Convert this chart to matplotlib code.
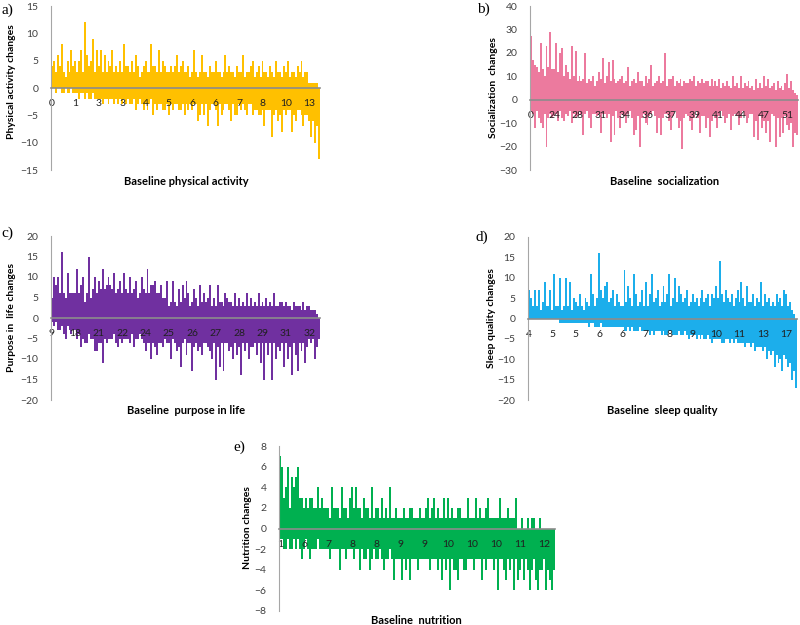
import numpy as np
import matplotlib.pyplot as plt

plt.rcParams['font.family'] = ['Lato', 'DejaVu Sans']

# Each panel has ~hundreds of participants, far more bars than pixels.
# Values are read per small bin along the x axis: the highest gain (up)
# and the largest drop (down) seen in that bin.

activity_up = [
    4, 5, 3, 6, 4, 8, 3, 2, 5, 3, 7, 4,
    5, 3, 5, 7, 3, 12, 6, 4, 5, 9, 3, 7,
    4, 7, 3, 6, 3, 5, 4, 7, 3, 4, 3, 5,
    3, 8, 4, 4, 3, 5, 3, 6, 4, 2, 3, 4,
    5, 3, 3, 8, 4, 4, 3, 7, 3, 5, 4, 3,
    3, 4, 3, 4, 6, 3, 4, 5, 3, 3, 4, 2,
    3, 7, 3, 2, 3, 6, 3, 3, 2, 4, 3, 3,
    5, 3, 3, 2, 3, 6, 3, 4, 3, 3, 2, 4,
    3, 3, 6, 2, 3, 3, 4, 5, 2, 3, 4, 2,
    5, 3, 3, 2, 4, 3, 2, 5, 3, 3, 2, 4,
    3, 5, 2, 3, 3, 2, 4, 3, 5, 2, 3, 3,
    1, 1, 1, 1, 1, 0]
activity_down = [
    0, 0, -1, 0, 0, -1, -1, 0, -1, -1, 0, -1,
    -1, -1, -2, -1, -1, -2, -1, -2, -2, -1, -2, -2,
    -2, -2, -3, -2, -2, -3, -2, -2, -3, -2, -3, -2,
    -3, -2, -3, -2, -3, -3, -2, -4, -3, -2, -3, -4,
    -3, -4, -3, -2, -5, -3, -4, -3, -3, -4, -4, -3,
    -5, -3, -4, -3, -3, -4, -4, -3, -5, -3, -4, -3,
    -4, -3, -3, -6, -5, -3, -5, -3, -7, -4, -3, -3,
    -4, -7, -3, -5, -4, -3, -3, -4, -6, -3, -5, -5,
    -3, -4, -3, -4, -5, -3, -3, -5, -4, -4, -5, -5,
    -4, -7, -4, -4, -4, -9, -5, -4, -6, -5, -8, -4,
    -5, -4, -4, -8, -5, -6, -4, -4, -5, -7, -5, -5,
    -6, -9, -6, -10, -7, -13]
activity_ticks = ['0', '1', '3', '3', '4', '5', '6', '6', '7', '8', '10', '13']

social_up = [
    27, 17, 15, 14, 12, 24, 13, 10, 23, 14, 29, 13,
    13, 24, 12, 20, 22, 10, 15, 12, 9, 23, 10, 21,
    8, 10, 8, 9, 20, 7, 9, 8, 10, 6, 8, 12,
    9, 18, 7, 10, 16, 8, 17, 9, 7, 8, 9, 10,
    7, 8, 14, 6, 8, 9, 7, 12, 8, 8, 6, 10,
    7, 9, 15, 6, 7, 8, 10, 7, 8, 20, 6, 9,
    9, 10, 6, 8, 7, 9, 6, 8, 7, 7, 9, 8,
    10, 6, 8, 7, 9, 7, 8, 8, 6, 9, 6, 8,
    6, 9, 5, 7, 6, 8, 6, 5, 10, 6, 7, 5,
    10, 5, 7, 6, 8, 5, 6, 4, 9, 5, 7, 5,
    10, 6, 9, 5, 6, 7, 4, 8, 5, 6, 4, 7,
    11, 5, 8, 4, 3, 2]
social_down = [
    -5, -6, -12, -5, -8, -10, -12, -6, -20, -8, -6, -8,
    -7, -6, -9, -5, -8, -9, -6, -7, -5, -10, -6, -8,
    -7, -5, -6, -15, -6, -5, -8, -12, -6, -6, -7, -6,
    -14, -6, -6, -8, -6, -18, -7, -15, -5, -8, -12, -6,
    -7, -10, -6, -5, -8, -15, -13, -7, -20, -8, -6, -10,
    -11, -7, -6, -5, -7, -14, -8, -15, -8, -6, -6, -9,
    -13, -7, -5, -8, -12, -9, -21, -8, -6, -7, -9, -13,
    -8, -5, -8, -14, -7, -7, -12, -8, -16, -9, -6, -8,
    -12, -7, -5, -7, -10, -8, -6, -13, -7, -6, -7, -11,
    -8, -5, -7, -10, -8, -6, -6, -16, -9, -17, -7, -12,
    -9, -14, -9, -18, -6, -7, -20, -8, -16, -8, -14, -7,
    -11, -13, -10, -20, -14, -15]
social_ticks = ['0', '24', '28', '31', '34', '36', '37', '39', '41', '44', '47', '51']

purpose_up = [
    5, 10, 8, 10, 6, 16, 6, 5, 11, 6, 6, 6,
    6, 12, 6, 8, 10, 4, 6, 15, 5, 7, 10, 6,
    9, 7, 12, 7, 8, 10, 8, 7, 11, 6, 7, 9,
    6, 11, 7, 6, 10, 6, 7, 9, 5, 6, 10, 7,
    6, 12, 6, 8, 8, 9, 6, 6, 8, 5, 5, 9,
    3, 4, 9, 4, 3, 7, 4, 8, 5, 9, 6, 3,
    4, 7, 5, 3, 8, 4, 6, 4, 5, 8, 3, 5,
    3, 8, 4, 4, 3, 6, 5, 4, 4, 3, 6, 3,
    5, 3, 4, 3, 6, 3, 5, 3, 4, 3, 6, 3,
    4, 3, 5, 3, 4, 3, 6, 3, 3, 4, 4, 3,
    4, 3, 3, 2, 4, 3, 3, 3, 2, 4, 2, 3,
    3, 2, 2, 2, 1, 0]
purpose_down = [
    -1, -2, -1, -3, -3, -2, -4, -5, -2, -3, -4, -3,
    -3, -5, -4, -7, -5, -6, -6, -4, -5, -5, -8, -8,
    -6, -6, -11, -5, -6, -5, -5, -5, -4, -6, -7, -5,
    -6, -5, -5, -5, -6, -4, -7, -5, -5, -4, -5, -6,
    -8, -6, -6, -10, -6, -7, -9, -6, -6, -7, -5, -6,
    -6, -10, -5, -6, -8, -7, -12, -6, -5, -9, -6, -6,
    -13, -7, -6, -8, -7, -9, -6, -6, -7, -8, -10, -6,
    -15, -7, -12, -6, -13, -6, -6, -8, -7, -10, -6, -9,
    -7, -14, -6, -8, -6, -10, -7, -7, -6, -9, -6, -11,
    -6, -15, -6, -9, -6, -15, -6, -10, -7, -8, -6, -12,
    -6, -10, -7, -14, -6, -9, -13, -6, -8, -6, -11, -7,
    -5, -6, -5, -10, -7, -5]
purpose_ticks = ['9', '18', '21', '22', '24', '25', '26', '27', '28', '29', '31', '32']

sleep_up = [
    7, 5, 3, 7, 3, 7, 2, 4, 9, 3, 3, 7,
    2, 11, 3, 3, 10, 2, 3, 10, 3, 9, 2, 5,
    4, 3, 6, 3, 2, 5, 4, 3, 11, 6, 3, 5,
    16, 7, 5, 8, 9, 4, 5, 7, 3, 6, 4, 3,
    3, 12, 4, 8, 5, 3, 11, 6, 3, 4, 7, 3,
    9, 3, 6, 11, 4, 5, 7, 3, 4, 8, 4, 6,
    11, 3, 5, 10, 4, 8, 6, 4, 5, 7, 3, 4,
    6, 4, 5, 3, 5, 7, 4, 5, 6, 3, 6, 5,
    8, 5, 14, 6, 4, 7, 5, 4, 6, 3, 5, 7,
    4, 9, 5, 3, 8, 4, 4, 6, 3, 5, 4, 9,
    3, 6, 4, 5, 3, 4, 3, 6, 4, 5, 3, 7,
    6, 3, 4, 2, 1, 0]
sleep_down = [
    0, 0, 0, 0, 0, 0, 0, 0, 0, 0, 0, 0,
    0, 0, 0, 0, -1, -1, -1, -1, -1, -1, -1, -1,
    -1, -1, -1, -1, -1, -1, -1, -2, -1, -1, -2, -2,
    -2, -1, -2, -2, -2, -2, -2, -2, -2, -2, -2, -2,
    -2, -3, -3, -2, -3, -2, -3, -3, -3, -2, -3, -3,
    -3, -3, -4, -3, -4, -3, -3, -3, -4, -3, -4, -4,
    -3, -3, -4, -4, -4, -3, -4, -4, -3, -4, -5, -4,
    -4, -4, -5, -4, -5, -4, -5, -5, -4, -5, -6, -5,
    -5, -5, -5, -6, -6, -5, -5, -6, -5, -6, -5, -6,
    -6, -6, -6, -7, -6, -6, -7, -6, -8, -7, -7, -7,
    -8, -7, -10, -8, -9, -8, -12, -9, -11, -10, -13, -9,
    -10, -12, -11, -15, -13, -17]
sleep_ticks = ['4', '5', '5', '6', '6', '7', '8', '9', '10', '11', '13', '17']

nutrition_up = [
    7, 6, 3, 4, 6, 2, 5, 4, 5, 6, 3, 3,
    2, 3, 2, 3, 3, 2, 2, 4, 2, 3, 2, 2,
    2, 1, 4, 2, 2, 2, 1, 4, 2, 2, 1, 3,
    4, 2, 4, 2, 2, 1, 3, 2, 2, 1, 4, 1,
    2, 2, 1, 3, 1, 2, 1, 4, 1, 1, 2, 1,
    1, 1, 2, 1, 1, 2, 2, 1, 1, 1, 2, 1,
    1, 2, 3, 1, 2, 3, 1, 2, 1, 1, 3, 1,
    3, 1, 2, 1, 1, 2, 2, 1, 1, 1, 3, 1,
    1, 1, 3, 1, 2, 1, 1, 2, 3, 1, 1, 1,
    1, 1, 3, 1, 1, 1, 2, 1, 1, 1, 3, 0,
    0, 1, 0, 0, 1, 0, 1, 1, 0, 0, 1, 0,
    0, 0, 0, 0, 0, 0]
nutrition_down = [
    -1, -1, -2, -2, -1, -2, -2, -1, -2, -1, -2, -3,
    -2, -1, -2, -3, -2, -2, -2, -1, -2, -2, -2, -2,
    -2, -3, -2, -2, -2, -2, -4, -2, -2, -3, -2, -2,
    -2, -3, -2, -2, -4, -2, -3, -3, -2, -4, -3, -2,
    -3, -3, -2, -3, -4, -3, -3, -2, -3, -5, -3, -3,
    -3, -5, -3, -4, -3, -5, -3, -3, -3, -4, -3, -3,
    -3, -3, -3, -4, -3, -3, -3, -4, -3, -5, -3, -4,
    -3, -6, -3, -4, -4, -5, -3, -3, -4, -4, -3, -3,
    -3, -4, -3, -3, -3, -5, -3, -4, -3, -3, -3, -4,
    -3, -6, -3, -3, -4, -5, -3, -4, -3, -6, -3, -5,
    -4, -3, -5, -3, -4, -6, -4, -3, -5, -6, -4, -4,
    -3, -6, -4, -5, -6, -4]
nutrition_ticks = ['1', '6', '7', '8', '8', '9', '9', '10', '10', '10', '11', '12']

W, H = 800, 625
fig = plt.figure(figsize=(8, 6.25), dpi=100)


def px_axes(left, top, right, bottom):
    return fig.add_axes([left / W, 1 - bottom / H, (right - left) / W, (bottom - top) / H])


def panel(box, up, down, ticks, color, ylim, ystep, letter, letter_xy, ylab, ylab_xy, xlab, xlab_xy):
    ax = px_axes(*box)
    n = len(up)
    x = np.arange(n)
    ax.bar(x, up, width=1.0, color=color, linewidth=0)
    ax.bar(x, down, width=1.0, color=color, linewidth=0)
    ax.set_xlim(-0.5, n - 0.5)
    ax.set_ylim(*ylim)
    ax.set_yticks(np.arange(ylim[0], ylim[1] + 1, ystep))
    ax.set_xticks(np.arange(len(ticks)) * 12)
    ax.set_xticklabels(ticks)
    for s in ['top', 'right']:
        ax.spines[s].set_visible(False)
    ax.spines['left'].set_color('#a6a6a6')
    ax.spines['bottom'].set_position(('data', 0))
    ax.spines['bottom'].set_color('#8c8c8c')
    ax.spines['bottom'].set_linewidth(1.2)
    ax.spines['bottom'].set_zorder(3)
    ax.tick_params(axis='both', length=0, labelsize=7.5, colors='#404040')
    ax.tick_params(axis='y', pad=9)
    ax.tick_params(axis='x', pad=8, labelcolor='#202020')
    for lbl in ax.get_xticklabels():
        lbl.set_zorder(4)
    fig.text(letter_xy[0] / W, 1 - letter_xy[1] / H, letter, family='Liberation Serif',
             fontsize=11, ha='left', va='center')
    fig.text(ylab_xy[0] / W, 1 - ylab_xy[1] / H, ylab, rotation=90, fontsize=7.5,
             fontweight='bold', ha='center', va='center')
    fig.text(xlab_xy[0] / W, 1 - xlab_xy[1] / H, xlab, fontsize=8,
             fontweight='bold', ha='center', va='center')
    return ax


panel((51, 6, 320, 170), activity_up, activity_down, activity_ticks, '#FFC000', (-15, 15), 5,
      'a)', (1, 10), 'Physical activity changes', (12, 82),
      'Baseline physical activity', (186, 181))
panel((530, 6, 798, 170), social_up, social_down, social_ticks, '#EC7A9E', (-30, 40), 10,
      'b)', (477, 9), 'Socialization  changes', (493, 88),
      'Baseline  socialization', (665, 181))
panel((51, 236, 320, 400), purpose_up, purpose_down, purpose_ticks, '#7030A0', (-20, 20), 5,
      'c)', (1, 233), 'Purpose in  life changes', (12, 317),
      'Baseline  purpose in life', (186, 411))
panel((528, 237, 797, 400), sleep_up, sleep_down, sleep_ticks, '#1CAEEB', (-20, 20), 5,
      'd)', (476, 237), 'Sleep quality changes', (492, 318),
      'Baseline  sleep quality', (662, 410))
panel((279, 446, 555, 611), nutrition_up, nutrition_down, nutrition_ticks, '#00B050', (-8, 8), 2,
      'e)', (233, 447), 'Nutrition changes', (247, 528),
      'Baseline  nutrition', (416, 620))

fig.savefig('out.png', dpi=100)
